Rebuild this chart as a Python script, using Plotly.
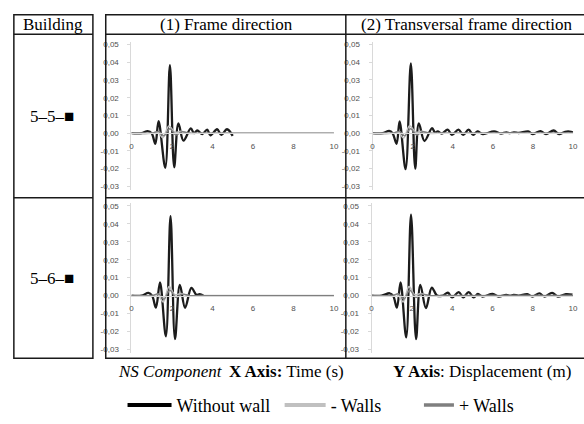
import plotly.graph_objects as go

# ---------------- data ----------------
# Building 5-5, (1) Frame direction
t_55_fr_nowall = [0, 0.5, 0.8, 1.0, 1.18, 1.34, 1.67, 1.9, 2.11, 2.32, 2.57, 2.93, 3.09, 3.25, 3.5, 3.74, 3.9, 4.23, 4.44, 4.72, 5.0]
v_55_fr_nowall = [0, 0, 0.0012, 0, -0.006, 0.0068, -0.0195, 0.0383, -0.0192, 0.0055, -0.0042, 0.0027, 0.0, 0.0015, -0.0005, 0.002, -0.0012, 0.0022, -0.001, 0.0022, -0.0015]
t_55_fr_minus = [0, 1.0, 1.3, 1.55, 1.85, 2.15, 2.45, 2.8, 3.5, 5, 7, 10]
v_55_fr_minus = [0, 0, 0.0005, -0.0025, 0.004, 0.0005, 0.001, 0, 0, 0, 0, 0]
t_55_fr_plus = [0, 1.0, 1.35, 1.6, 1.9, 2.2, 2.5, 2.9, 4, 10]
v_55_fr_plus = [0, 0, 0.001, -0.0015, 0.0025, -0.001, 0.0008, 0, 0, 0]

# Building 5-5, (2) Transversal frame direction
t_55_tr_nowall = [0, 0.5, 0.83, 1.0, 1.2, 1.35, 1.65, 1.91, 2.13, 2.31, 2.59, 2.97, 3.12, 3.25, 3.45, 3.75, 3.96, 4.29, 4.52, 4.79, 5.02, 5.23, 5.5, 6.06, 6.4, 6.67, 6.85, 7.05, 7.3, 7.76, 8.0, 8.37, 8.65, 9.03, 9.3, 9.6, 9.9, 10.0]
v_55_tr_nowall = [0, 0, 0.0013, 0, -0.006, 0.0066, -0.0203, 0.0394, -0.02, 0.0055, -0.0044, 0.0028, 0.0003, 0.001, -0.0002, 0.002, -0.001, 0.002, -0.001, 0.002, -0.001, 0.001, -0.0005, 0.001, -0.0002, 0.0005, 0.0, 0.0005, 0.0001, 0.001, -0.0005, 0.0012, -0.0005, 0.0015, -0.0005, 0.0008, 0.0008, 0.0003]
t_55_tr_minus = [0, 1.0, 1.3, 1.55, 1.85, 2.15, 2.45, 2.8, 3.5, 5, 7, 10]
v_55_tr_minus = [0, 0, 0.0005, -0.0028, 0.0042, 0.0005, 0.001, 0, 0, 0, 0, 0]
t_55_tr_plus = [0, 1.0, 1.35, 1.6, 1.9, 2.2, 2.5, 2.9, 4, 10]
v_55_tr_plus = [0, 0, 0.001, -0.0015, 0.0025, -0.001, 0.0008, 0, 0, 0]

# Building 5-6, (1) Frame direction
t_56_fr_nowall = [0, 0.5, 0.84, 1.02, 1.21, 1.41, 1.7, 1.93, 2.15, 2.39, 2.65, 2.96, 3.21, 3.37, 3.55]
v_56_fr_nowall = [0, 0, 0.0015, 0, -0.0067, 0.0073, -0.0227, 0.0442, -0.0242, 0.006, -0.0068, 0.0043, 0.0004, 0.0008, 0]
t_56_fr_minus = [0, 1.0, 1.3, 1.57, 1.86, 2.15, 2.45, 2.8, 3.5, 5, 7, 10]
v_56_fr_minus = [0, 0, 0.0005, -0.0035, 0.005, 0.0005, 0.0012, 0, 0, 0, 0, 0]
t_56_fr_plus = [0, 1.0, 1.35, 1.6, 1.9, 2.2, 2.5, 2.9, 4, 10]
v_56_fr_plus = [0, 0, 0.001, -0.002, 0.003, -0.001, 0.0008, 0, 0, 0]

# Building 5-6, (2) Transversal frame direction
t_56_tr_nowall = [0, 0.5, 0.9, 1.07, 1.26, 1.44, 1.72, 1.96, 2.21, 2.42, 2.7, 2.99, 3.25, 3.53, 3.79, 4.0, 4.33, 4.55, 4.82, 5.07, 5.28, 5.5, 6.01, 6.3, 6.68, 6.88, 7.05, 7.3, 7.73, 7.98, 8.33, 8.58, 8.96, 9.24, 9.64, 9.97]
v_56_tr_nowall = [0, 0, 0.0013, 0, -0.0067, 0.0073, -0.0233, 0.0451, -0.0242, 0.006, -0.007, 0.0045, 0.0, 0.0, 0.0016, -0.001, 0.002, -0.001, 0.002, -0.001, 0.001, -0.0005, 0.001, -0.0005, 0.0004, 0.0, 0.0004, 0.0, 0.0008, -0.0005, 0.0012, -0.0005, 0.0015, -0.0005, 0.0008, 0.0005]
t_56_tr_minus = [0, 1.0, 1.3, 1.57, 1.86, 2.15, 2.45, 2.8, 3.5, 5, 7, 10]
v_56_tr_minus = [0, 0, 0.0005, -0.0035, 0.005, 0.0005, 0.0012, 0, 0, 0, 0, 0]
t_56_tr_plus = [0, 1.0, 1.35, 1.6, 1.9, 2.2, 2.5, 2.9, 4, 10]
v_56_tr_plus = [0, 0, 0.001, -0.002, 0.003, -0.001, 0.0008, 0, 0, 0]

y_tick_vals = [-0.03, -0.02, -0.01, 0.0, 0.01, 0.02, 0.03, 0.04, 0.05]
y_tick_text = ["-0,03", "-0,02", "-0,01", "0,00", "0,01", "0,02", "0,03", "0,04", "0,05"]
x_tick_vals = [0, 2, 4, 6, 8, 10]

series_names = ["Without wall", "- Walls", "+ Walls"]
series_colors = ["#1c1c1c", "#bfbfbf", "#7f7f7f"]
series_widths = [2.3, 1.6, 1.4]

headers = ["Building", "(1) Frame direction", "(2) Transversal frame direction"]
buildings = ["5\u20135\u2013\u25a0", "5\u20136\u2013\u25a0"]

# ---------------- layout helpers ----------------
W, H = 584, 424
def fx(px):
    return px / W
def fy(py):
    return 1 - py / H

y_range = [-0.032, 0.0515]
x_range = [0, 10]

panels = [
    ([(t_55_fr_nowall, v_55_fr_nowall), (t_55_fr_minus, v_55_fr_minus), (t_55_fr_plus, v_55_fr_plus)], (131, 336), (40.7, 192.0)),
    ([(t_55_tr_nowall, v_55_tr_nowall), (t_55_tr_minus, v_55_tr_minus), (t_55_tr_plus, v_55_tr_plus)], (375, 578), (40.7, 192.0)),
    ([(t_56_fr_nowall, v_56_fr_nowall), (t_56_fr_minus, v_56_fr_minus), (t_56_fr_plus, v_56_fr_plus)], (131, 336), (205.5, 358.7)),
    ([(t_56_tr_nowall, v_56_tr_nowall), (t_56_tr_minus, v_56_tr_minus), (t_56_tr_plus, v_56_tr_plus)], (374, 578), (205.5, 358.7)),
]

fig = go.Figure()
layout = dict()
tick_font = dict(family="Liberation Sans", size=8, color="#505050")

for i, (series, (xa, xb), (ytop, ybot)) in enumerate(panels):
    n = "" if i == 0 else str(i + 1)
    for (t, v), color, width in zip(series, series_colors, series_widths):
        fig.add_trace(go.Scatter(
            x=t, y=v, mode="lines", line=dict(color=color, width=width, shape="spline", smoothing=1.0),
            xaxis="x" + n, yaxis="y" + n, showlegend=False, hoverinfo="skip"))
    yd = [fy(ybot), fy(ytop)]
    zero_pos = yd[0] + (0 - y_range[0]) / (y_range[1] - y_range[0]) * (yd[1] - yd[0])
    layout["xaxis" + n] = dict(
        domain=[fx(xa), fx(xb)], range=x_range, anchor="free", position=zero_pos,
        tickvals=x_tick_vals, showgrid=False, zeroline=False, showline=True,
        linecolor="#d9d9d9", linewidth=1, ticks="", ticklabelstandoff=5,
        tickfont=tick_font, fixedrange=True)
    layout["yaxis" + n] = dict(
        domain=yd, range=y_range, anchor="x" + n, tickvals=y_tick_vals, ticktext=y_tick_text,
        showgrid=False, zeroline=False, showline=True, linecolor="#d9d9d9", linewidth=1,
        ticks="outside", ticklen=3, tickcolor="#d9d9d9", ticklabelstandoff=7,
        tickfont=tick_font, fixedrange=True)

# legend entries (one legend per entry for exact placement)
legend_x_px = [122, 281, 422]
legend_item_w = [44, 41, 30]
legend_widths = [4, 4, 3.5]
legend_colors = ["#000000", "#c0c0c0", "#7f7f7f"]
for k, (name, color, lw, lx, iw) in enumerate(zip(series_names, legend_colors, legend_widths, legend_x_px, legend_item_w)):
    lname = "legend" if k == 0 else "legend" + str(k + 1)
    fig.add_trace(go.Scatter(x=[None], y=[None], mode="lines", name=name,
                             line=dict(color=color, width=lw),
                             legend=lname, hoverinfo="skip"))
    layout[lname] = dict(x=fx(lx), y=fy(412), xanchor="left", yanchor="middle",
                         orientation="h", bgcolor="rgba(0,0,0,0)", borderwidth=0,
                         itemwidth=iw,
                         font=dict(family="Liberation Serif", size=18, color="#000000"))

# table borders
shapes = []
line_style = dict(color="#1a1a1a", width=1.5)
def rect(x0, y0, x1, y1):
    shapes.append(dict(type="rect", xref="paper", yref="paper", x0=fx(x0), x1=fx(x1),
                       y0=fy(y1), y1=fy(y0), line=line_style, fillcolor="rgba(0,0,0,0)", layer="above"))
def hline(x0, x1, y):
    shapes.append(dict(type="line", xref="paper", yref="paper", x0=fx(x0), x1=fx(x1),
                       y0=fy(y), y1=fy(y), line=line_style, layer="above"))
def vline(x, y0, y1):
    shapes.append(dict(type="line", xref="paper", yref="paper", x0=fx(x), x1=fx(x),
                       y0=fy(y0), y1=fy(y1), line=line_style, layer="above"))

rect(12, 13, 92, 364)
hline(12, 92, 33)
hline(12, 92, 200)
rect(105, 13, 600, 364)
hline(105, 600, 33)
hline(105, 600, 200)
vline(348, 13, 364)

annotations = []
def text(s, px, py, xanchor="center", size=17):
    annotations.append(dict(text=s, xref="paper", yref="paper", x=fx(px), y=fy(py),
                            xanchor=xanchor, yanchor="middle", showarrow=False,
                            font=dict(family="Liberation Serif", size=size, color="#000000")))

text(headers[0], 52, 23)
text(headers[1], 227, 23)
text(headers[2], 471, 23)
text(buildings[0], 51, 117)
text(buildings[1], 51, 283)
text("<i>NS Component</i>", 115, 378, xanchor="left")
text("<b>X Axis:</b> Time (s)", 228, 378, xanchor="left")
text("<b>Y Axis</b>: Displacement (m)", 578, 378, xanchor="right")

fig.update_layout(width=W, height=H, margin=dict(l=0, r=0, t=0, b=0),
                  paper_bgcolor="white", plot_bgcolor="white",
                  shapes=shapes, annotations=annotations, showlegend=True, **layout)

# place the figure flush with the window (no default page margin / scrollbars)
page_fix = ("document.body.style.margin='0';"
            "document.body.style.overflow='hidden';"
            "document.documentElement.style.overflow='hidden';")
fig.write_html("out.html", post_script=page_fix, config={"displayModeBar": False})
